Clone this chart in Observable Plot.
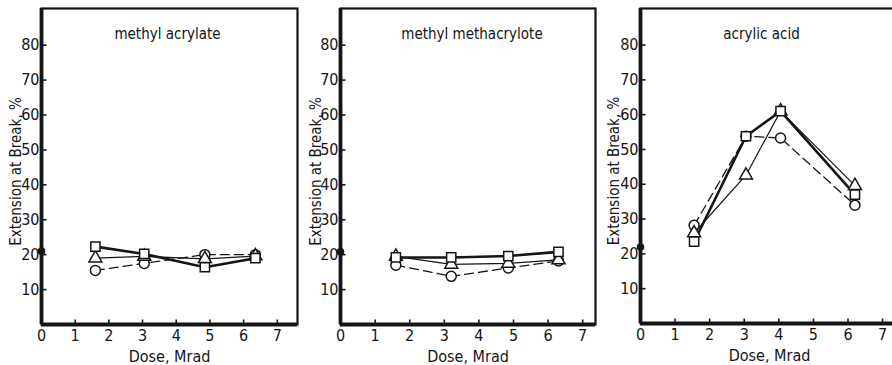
<!DOCTYPE html>
<html><head><meta charset="utf-8">
<script src="https://cdn.jsdelivr.net/npm/d3@7"></script>
<script src="https://cdn.jsdelivr.net/npm/@observablehq/plot@0.6"></script>
<style>
body{margin:0;width:892px;height:365px;overflow:hidden;background:#fff;position:relative}
.p{position:absolute;top:0;height:365px;overflow:visible}
.p svg{max-width:none !important;overflow:visible}
</style></head><body>
<div id="p1" class="p" style="left:0;width:300px"></div>
<div id="p2" class="p" style="left:300px;width:298px"></div>
<div id="p3" class="p" style="left:598px;width:300px"></div>
<script>
// ---- data ----
const titles = ["methyl acrylate", "methyl methacrylote", "acrylic acid"];
const xLabel = "Dose, Mrad";
const yLabel = "Extension at Break, %";
const xTicks = [0, 1, 2, 3, 4, 5, 6, 7];
const yTicks = [10, 20, 30, 40, 50, 60, 70, 80];
const controlValues = [21, 20.8, 22];   // filled dot at zero dose

const doseMA = [1.6, 3.05, 4.85, 6.35];
const squareMA = [22.3, 20.2, 16.4, 19.0];
const triangleMA = [19.0, 19.5, 18.8, 19.6];
const circleMA = [15.5, 17.5, 20.0, 20.0];

const doseMMA = [1.6, 3.2, 4.85, 6.3];
const squareMMA = [19.2, 19.2, 19.6, 20.8];
const triangleMMA = [19.5, 17.2, 17.5, 18.5];
const circleMMA = [17.0, 13.8, 16.2, 18.2];

const doseAA = [1.55, 3.05, 4.05, 6.2];
const squareAA = [23.5, 53.8, 61.0, 37.0];
const triangleAA = [26.0, 42.6, 61.0, 39.6];
const circleAA = [28.2, 53.8, 53.3, 34.0];

// ---- build ----
function rows(dose, vals) { return dose.map((d, i) => ({x: d, y: vals[i]})); }
const panels = [
  {id: "p1", title: titles[0], control: controlValues[0], sq: rows(doseMA, squareMA), tr: rows(doseMA, triangleMA), ci: rows(doseMA, circleMA),
   width: 300, ml: 41, mr: 3, mb: 41, xmax: 7.6, tx: 3.74},
  {id: "p2", title: titles[1], control: controlValues[1], sq: rows(doseMMA, squareMMA), tr: rows(doseMMA, triangleMMA), ci: rows(doseMMA, circleMMA),
   width: 298, ml: 40, mr: 3, mb: 41, xmax: 7.37, tx: 3.8},
  {id: "p3", title: titles[2], control: controlValues[2], sq: rows(doseAA, squareAA), tr: rows(doseAA, triangleAA), ci: rows(doseAA, circleAA),
   width: 300, ml: 42, mr: 0, mb: 42, xmax: 7.46, tx: 3.5}
];
// custom inward tick glyphs
const tickRight = {draw(ctx, size) { ctx.moveTo(0, 0); ctx.lineTo(5, 0); }};
const tickUp = {draw(ctx, size) { ctx.moveTo(0, 0); ctx.lineTo(0, -5); }};
const INK = "#151515";
const FONT = "'DejaVu Sans Condensed', 'Liberation Sans Narrow', sans-serif";
for (const p of panels) {
  const chart = Plot.plot({
    width: p.width, height: 365,
    marginLeft: p.ml, marginRight: p.mr, marginTop: 8, marginBottom: p.mb,
    style: {fontFamily: FONT, fontSize: "16px", color: INK, background: "transparent"},
    x: {domain: [0, p.xmax]},
    y: {domain: [0, 90.5], axis: null},
    marks: [
      Plot.axisX({ticks: xTicks, tickSize: 0, tickPadding: 5, tickFormat: d => d, fontSize: 16, label: null}),
      Plot.dot(xTicks.slice(1), {x: d => d, y: () => 0, symbol: tickUp, stroke: INK, strokeWidth: 1.6}),
      Plot.axisY({ticks: yTicks, anchor: "left", tickSize: 0, tickPadding: 2, fontSize: 16, label: null, textAnchor: "end"}),
      Plot.dot(yTicks, {x: () => 0, y: d => d, symbol: tickRight, stroke: INK, strokeWidth: 1.6}),
      Plot.text([xLabel], {frameAnchor: "bottom", dy: 37, fontSize: 16, fill: INK}),
      Plot.text([yLabel], {frameAnchor: "left", textAnchor: "middle", dx: -p.ml + 16, dy: 5, rotate: -90, fontSize: 15, fill: INK}),
      Plot.text([p.title], {x: () => p.tx, frameAnchor: "top", dy: 20, fontSize: 15, fill: INK}),
      Plot.line(p.ci, {x: "x", y: "y", stroke: INK, strokeWidth: 1.3, strokeDasharray: "9,5"}),
      Plot.line(p.tr, {x: "x", y: "y", stroke: INK, strokeWidth: 1.2}),
      Plot.line(p.sq, {x: "x", y: "y", stroke: INK, strokeWidth: 2.6}),
      Plot.dot(p.ci, {x: "x", y: "y", symbol: "circle", r: 5, fill: "white", stroke: INK, strokeWidth: 1.5}),
      Plot.dot(p.tr, {x: "x", y: "y", symbol: "triangle", r: 4.8, fill: "white", stroke: INK, strokeWidth: 1.5}),
      Plot.dot(p.sq, {x: "x", y: "y", symbol: "square", r: 5.2, fill: "white", stroke: INK, strokeWidth: 1.5}),
      Plot.frame({stroke: INK, strokeWidth: 2.2}),
      Plot.ruleX([0], {stroke: INK, strokeWidth: 3.8}),
      Plot.ruleY([0], {stroke: INK, strokeWidth: 3.8}),
      Plot.dot([p.control], {x: () => 0, y: d => d, r: 3.8, fill: INK})
    ]
  });
  document.getElementById(p.id).appendChild(chart);
}
</script>
</body></html>
